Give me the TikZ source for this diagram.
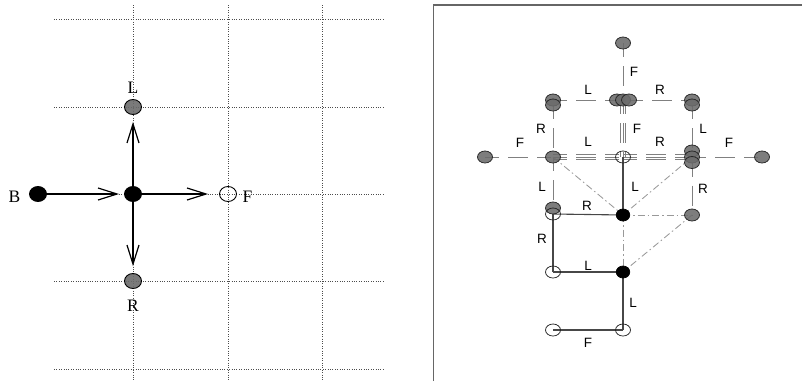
\documentclass[tikz,border=0pt]{standalone}
\usepackage{fontspec}
\setmainfont{Liberation Serif}
\newfontfamily\labsans{Liberation Sans}
\usetikzlibrary{arrows.meta,shapes.geometric}
\pgfdeclarelayer{bg}
\pgfsetlayers{bg,main}
\begin{document}
\begin{tikzpicture}[x=1pt,y=-1pt,
  lnode/.style={ellipse,draw=black,line width=0.9pt,minimum width=17pt,minimum height=15pt,inner sep=0pt},
  lblack/.style={lnode,fill=black},
  lgray/.style={lnode,fill=black!58,fill opacity=0.9},
  lopen/.style={lnode},
  gridline/.style={black!70,line width=0.75pt,dash pattern=on 1pt off 1.4pt},
  arr/.style={line width=1.2pt,-{Straight Barb[length=19pt,width=12pt,line width=1.2pt]}},
  ltext/.style={font=\fontsize{17.5}{17.5}\selectfont,inner sep=0pt},
  rnode/.style={ellipse,draw=black!85,line width=0.75pt,minimum width=15pt,minimum height=12pt,inner sep=0pt},
  rgray/.style={rnode,fill=black!58,fill opacity=0.88},
  ropen/.style={rnode},
  rblack/.style={rnode,draw=black,fill=black,minimum width=13.5pt},
  rtext/.style={font=\labsans\fontsize{13.5}{13.5}\selectfont,inner sep=0pt},
  dsh/.style={black!50,line width=1pt,dash pattern=on 14pt off 9pt on 20pt off 9pt},
  ddot/.style={black!40,line width=0.85pt,dash pattern=on 7pt off 3pt on 1.5pt off 3pt},
  sol/.style={black!72,line width=1.1pt},
  frameline/.style={black!60,line width=1.6pt},
]
\useasboundingbox (0,0) rectangle (802,381);

% ---------------- left panel ----------------
\foreach \y in {19,107,194,281,369} \draw[gridline] (54,\y) -- (385,\y);
\foreach \x in {133,228,322} \draw[gridline] (\x,5) -- (\x,381);

\node[lblack] (B) at (38,194) {};
\node[lblack] (C) at (133,194) {};
\node[lopen]  (F) at (228,194) {};
\node[lgray]  (L) at (133,107) {};
\node[lgray]  (R) at (133,281) {};

\node[ltext] (tB) at (14.5,197) {B};
\node[ltext] (tL) at (133,88) {L};
\node[ltext] (tR) at (133,306) {R};
\node[ltext] (tF) at (247.5,197) {F};

\draw[arr,shorten >=5pt] (B) -- (C);
\draw[arr,shorten >=11pt] (C) -- (F);
\draw[arr,shorten >=7pt] (C) -- (L);
\draw[arr,shorten >=7pt] (C) -- (R);

% ---------------- right panel ----------------
\draw[frameline] (433.5,381) -- (433.5,5) -- (802,5);

\node[rgray] (t)   at (623,43) {};
\node[rgray] (ul1) at (553,100) {};
\node[rgray] (ul2) at (553,105) {};
\node[rgray] (uc1) at (617,100) {};
\node[rgray] (uc2) at (623,100) {};
\node[rgray] (uc3) at (629,100) {};
\node[rgray] (ur1) at (692,100) {};
\node[rgray] (ur2) at (692,105) {};
\node[rgray] (ml0) at (485,157) {};
\node[rgray] (ml)  at (553,157) {};
\node[ropen] (mc)  at (623,157) {};
\node[rgray] (mr1) at (692,151) {};
\node[rgray] (mr2) at (692,157) {};
\node[rgray] (mr3) at (692,162.5) {};
\node[rgray] (mr0) at (762,157) {};
\node[rgray] (ll1) at (553,208) {};
\node[ropen] (ll2) at (553,214) {};
\node[rblack] (lc) at (623,215) {};
\node[rgray] (lr)  at (692,215) {};
\node[ropen] (bl)  at (553,272) {};
\node[rblack] (bc) at (623,272) {};
\node[ropen] (fl)  at (553,330) {};
\node[ropen] (fc)  at (623,330) {};

\begin{pgfonlayer}{bg}
  % dashed gray connectors
  \draw[dsh] (t.center) -- (uc2.center);
  \draw[dsh] (ul1.center) -- (uc1.center);
  \draw[dsh] (uc3.center) -- (ur1.center);
  \draw[dsh] (ul2.center) -- (ml.center);
  \draw[dsh] (ur2.center) -- (mr1.center);
  \foreach \o in {-2.2,0,2.2} {
    \draw[dsh] ([xshift=\o pt]uc2.center) -- ([xshift=\o pt]mc.center);
    \draw[dsh] ([yshift=\o pt]ml.center) -- ([yshift=\o pt]mc.center);
    \draw[dsh] ([yshift=\o pt]mc.center) -- ([yshift=\o pt]mr2.center);
  }
  \draw[dsh] (ml0.center) -- (ml.center);
  \draw[dsh] (mr2.center) -- (mr0.center);
  \draw[dsh] (ml.center) -- (ll1.center);
  \draw[dsh] (mr3.center) -- (lr.center);
  % dash-dot connectors
  \draw[ddot] (ml.center) -- (lc.center);
  \draw[ddot] (mr2.center) -- (lc.center);
  \draw[ddot] (lc.center) -- (lr.center);
  \draw[ddot] (lc.center) -- (bc.center);
  \draw[ddot] (lr.center) -- (bc.center);
  % solid connectors
  \draw[sol] (mc.center) -- (lc.center);
  \draw[sol] (ll2.center) -- (lc.center);
  \draw[sol] (ll2.center) -- (bl.center);
  \draw[sol] (bl.center) -- (bc.center);
  \draw[sol] (bc.center) -- (fc.center);
  \draw[sol] (fl.center) -- (fc.center);
\end{pgfonlayer}

% labels
\node[rtext] (a1)  at (634,72)  {F};
\node[rtext] (a2)  at (588,90)  {L};
\node[rtext] (a3)  at (660,90)  {R};
\node[rtext] (a4)  at (541,129) {R};
\node[rtext] (a5)  at (637,129) {F};
\node[rtext] (a6)  at (703,129) {L};
\node[rtext] (a7)  at (520,143) {F};
\node[rtext] (a8)  at (588,142) {L};
\node[rtext] (a9)  at (660,142) {R};
\node[rtext] (a10) at (729,143) {F};
\node[rtext] (a11) at (542,187) {L};
\node[rtext] (a12) at (635,187) {L};
\node[rtext] (a13) at (703,189) {R};
\node[rtext] (a14) at (587,206) {R};
\node[rtext] (a15) at (542,239) {R};
\node[rtext] (a16) at (588,266) {L};
\node[rtext] (a17) at (633,303) {L};
\node[rtext] (a18) at (588,343) {F};
\end{tikzpicture}
\end{document}
